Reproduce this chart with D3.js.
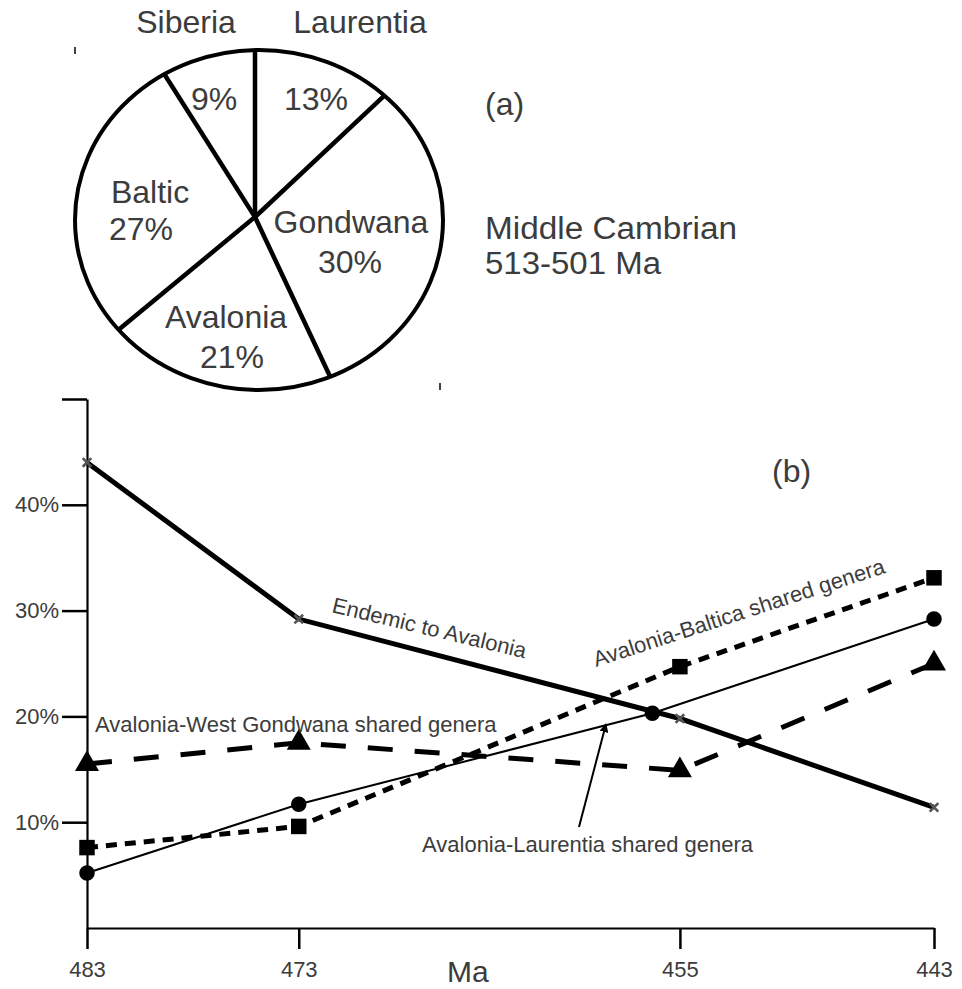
<!DOCTYPE html>
<html>
<head>
<meta charset="utf-8">
<script src="https://cdn.jsdelivr.net/npm/d3@7"></script>
<style>
  html, body { margin: 0; padding: 0; background: #fff; }
  svg { display: block; }
  text { font-family: "Liberation Sans", Arial, sans-serif; fill: #3c3c3c; }
</style>
</head>
<body>
<svg id="chart" width="962" height="989"></svg>
<script>
// ---------- data ----------
const pieCategories = ["Laurentia", "Gondwana", "Avalonia", "Baltic", "Siberia"];
const pieValues = [13, 30, 21, 27, 9];

const maTicks = [483, 473, 455, 443];
const pctTicks = [10, 20, 30, 40, 50];

const endemicMa = [483, 473, 455, 443];
const endemicPct = [44.0, 29.2, 19.8, 11.4];

const laurentiaMa = [483, 473, 456.3, 443];
const laurentiaPct = [5.2, 11.7, 20.3, 29.2];

const balticaMa = [483, 473, 455, 443];
const balticaPct = [7.6, 9.6, 24.7, 33.1];

const gondwanaMa = [483, 473, 455, 443];
const gondwanaPct = [15.5, 17.5, 14.9, 25.0];

// ---------- layout ----------
const W = 962, H = 989;
const svg = d3.select("#chart");

// ---------- (a) pie ----------
const pieC = {x: 255, y: 217};          // hub of the spokes
const ell = {x: 259, y: 220, rx: 184, ry: 170};
const pieFont = 32;

svg.append("ellipse")
  .attr("cx", ell.x).attr("cy", ell.y).attr("rx", ell.rx).attr("ry", ell.ry)
  .attr("fill", "none").attr("stroke", "#000").attr("stroke-width", 4);

const arcs = d3.pie().sort(null).value(d => d)(pieValues);

function spokeEnd(theta) {
  const s = Math.sin(theta), c = Math.cos(theta);
  const ox = (pieC.x - ell.x) / ell.rx, oy = (pieC.y - ell.y) / ell.ry;
  const a = (s / ell.rx) ** 2 + (c / ell.ry) ** 2;
  const b = 2 * (ox * s / ell.rx - oy * c / ell.ry);
  const cc = ox * ox + oy * oy - 1;
  const t = (-b + Math.sqrt(b * b - 4 * a * cc)) / (2 * a);
  return [pieC.x + t * s, pieC.y - t * c];
}

svg.append("g").selectAll("line")
  .data(arcs)
  .join("line")
  .attr("x1", pieC.x).attr("y1", pieC.y)
  .attr("x2", d => spokeEnd(d.startAngle)[0])
  .attr("y2", d => spokeEnd(d.startAngle)[1])
  .attr("stroke", "#000").attr("stroke-width", 4.5);

// label placement (name + percent) for each slice
const pieLabelLayout = {
  Laurentia: {name: [360, 33], pct: [316, 110]},
  Gondwana:  {name: [351, 233], pct: [350, 273]},
  Avalonia:  {name: [226, 328], pct: [232, 368]},
  Baltic:    {name: [150, 203], pct: [141, 240]},
  Siberia:   {name: [186, 33], pct: [214, 110]}
};
const pl = svg.append("g").attr("font-size", pieFont).attr("text-anchor", "middle");
arcs.forEach((d, i) => {
  const cat = pieCategories[i];
  const L = pieLabelLayout[cat];
  pl.append("text").attr("x", L.name[0]).attr("y", L.name[1]).text(cat);
  pl.append("text").attr("x", L.pct[0]).attr("y", L.pct[1]).text(pieValues[i] + "%");
});

svg.append("text").attr("x", 485).attr("y", 115).attr("font-size", 32).text("(a)");
svg.append("text").attr("x", 485).attr("y", 239).attr("font-size", 31)
  .attr("textLength", 252).attr("lengthAdjust", "spacingAndGlyphs").text("Middle Cambrian");
svg.append("text").attr("x", 485).attr("y", 274).attr("font-size", 31)
  .attr("textLength", 176).attr("lengthAdjust", "spacingAndGlyphs").text("513-501 Ma");

// crop marks
[[75, 47, 75, 54], [440, 383, 440, 390]].forEach(m => {
  svg.append("line").attr("x1", m[0]).attr("y1", m[1]).attr("x2", m[2]).attr("y2", m[3])
    .attr("stroke", "#000").attr("stroke-width", 1.5);
});

// ---------- (b) line chart ----------
const x = d3.scaleLinear().domain([483, 443]).range([87, 934]);
const y = d3.scaleLinear().domain([0, 50]).range([928, 399]);
const tickFont = 22;

const yAxis = svg.append("g").attr("transform", `translate(${x(483)},0)`)
  .call(d3.axisLeft(y).tickValues(pctTicks)
    .tickFormat(d => d === 50 ? "" : d + "%")
    .tickSize(25).tickSizeOuter(0).tickPadding(3));
yAxis.select(".domain").attr("stroke-width", 2.2);
yAxis.selectAll(".tick line").attr("stroke-width", 2.5);
yAxis.selectAll(".tick text").attr("font-size", tickFont).attr("font-family", "Liberation Sans, Arial, sans-serif").attr("fill", "#3c3c3c");

const xAxis = svg.append("g").attr("transform", `translate(0,${y(0)})`)
  .call(d3.axisBottom(x).tickValues(maTicks).tickFormat(d3.format("d"))
    .tickSize(21).tickSizeOuter(0).tickPadding(12));
xAxis.select(".domain").attr("stroke-width", 2.2);
xAxis.selectAll(".tick line").attr("stroke-width", 2.5);
xAxis.selectAll(".tick text").attr("font-size", tickFont).attr("font-family", "Liberation Sans, Arial, sans-serif").attr("fill", "#3c3c3c");

svg.append("text").attr("x", 447).attr("y", 982).attr("font-size", 30).text("Ma");
svg.append("text").attr("x", 772).attr("y", 482).attr("font-size", 32).text("(b)");

const zip = (ma, v) => ma.map((m, i) => ({ma: m, v: v[i]}));
const line = d3.line().x(d => x(d.ma)).y(d => y(d.v));

const series = [
  {name: "endemic", pts: zip(endemicMa, endemicPct), width: 5, dash: null, sym: d3.symbolX, size: 50},
  {name: "laurentia", pts: zip(laurentiaMa, laurentiaPct), width: 2, dash: null, sym: d3.symbolCircle, size: 190},
  {name: "baltica", pts: zip(balticaMa, balticaPct), width: 5, dash: "11,8", sym: d3.symbolSquare, size: 240},
  {name: "gondwana", pts: zip(gondwanaMa, gondwanaPct), width: 5, dash: "25,22", sym: d3.symbolTriangle, size: 250}
];

series.forEach(s => {
  svg.append("path").datum(s.pts)
    .attr("d", line).attr("fill", "none").attr("stroke", "#000")
    .attr("stroke-width", s.width)
    .attr("stroke-dasharray", s.dash);
});

series.forEach(s => {
  const g = svg.append("g");
  g.selectAll("path").data(s.pts).join("path")
    .attr("transform", d => `translate(${x(d.ma)},${y(d.v)})`)
    .attr("d", d3.symbol(s.sym, s.size))
    .attr("fill", s.sym === d3.symbolX ? "none" : "#000")
    .attr("stroke", s.sym === d3.symbolX ? "#555" : "none")
    .attr("stroke-width", s.sym === d3.symbolX ? 2.6 : 0);
});

// annotations
const ann = svg.append("g").attr("font-size", 22);
ann.append("text").attr("transform", "translate(331,612) rotate(13.5)").text("Endemic to Avalonia");
ann.append("text").attr("transform", "translate(596,667) rotate(-18)").text("Avalonia-Baltica shared genera");
ann.append("text").attr("x", 95).attr("y", 732).text("Avalonia-West Gondwana shared genera");
ann.append("text").attr("x", 422).attr("y", 852).text("Avalonia-Laurentia shared genera");

// arrow
svg.append("defs").append("marker")
  .attr("id", "ah").attr("viewBox", "0 0 10 10").attr("refX", 9).attr("refY", 5)
  .attr("markerWidth", 9).attr("markerHeight", 9).attr("markerUnits", "userSpaceOnUse")
  .attr("orient", "auto")
  .append("path").attr("d", "M0,0 L10,5 L0,10 Z").attr("fill", "#000");
svg.append("line").attr("x1", 579).attr("y1", 827).attr("x2", 606).attr("y2", 724)
  .attr("stroke", "#000").attr("stroke-width", 2)
  .attr("marker-end", "url(#ah)");
</script>
</body>
</html>
